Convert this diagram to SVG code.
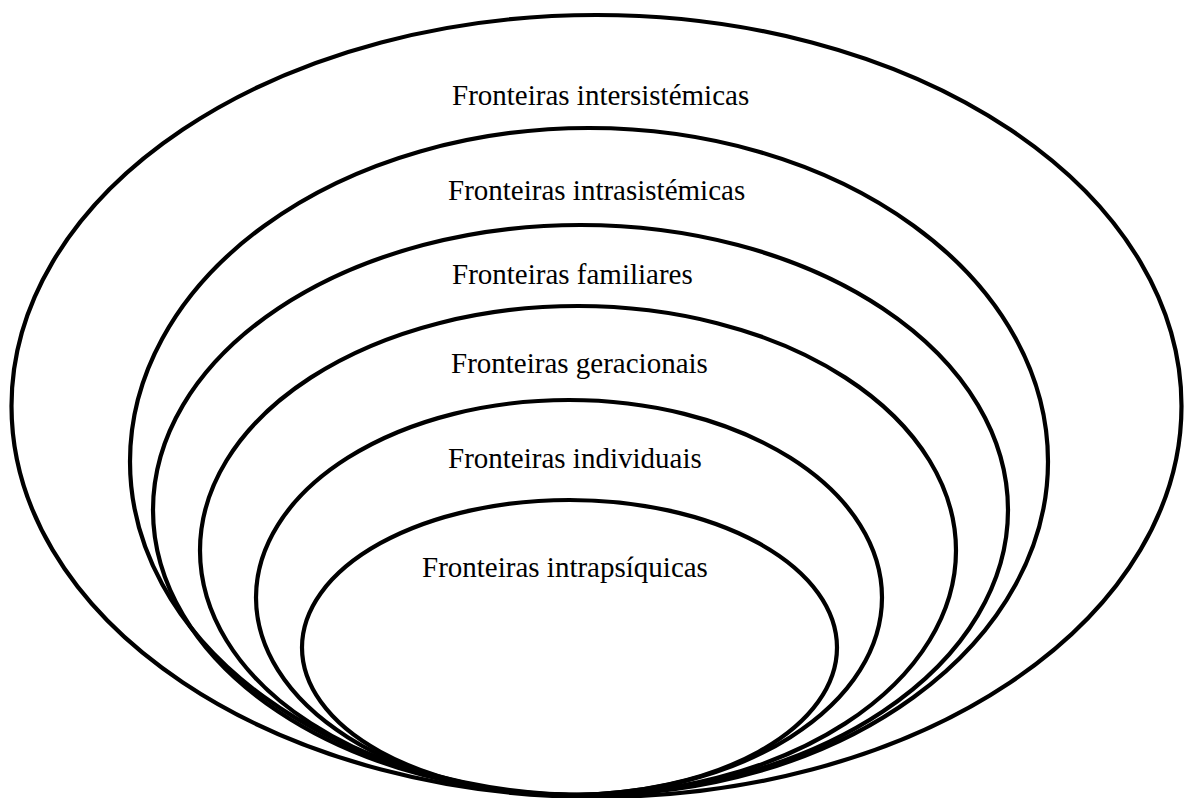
<svg xmlns="http://www.w3.org/2000/svg" width="1184" height="798" viewBox="0 0 1184 798">
  <style>
    .ring { fill: none; stroke: #000; stroke-width: 4.2; }
    .lbl { font-family: "Liberation Serif", "Times New Roman", serif; font-size: 29px; fill: #000; }
  </style>
  <rect x="0" y="0" width="1184" height="798" fill="#fff"/>
  <g id="intersistemicas">
    <ellipse class="ring" cx="596.5" cy="406" rx="585" ry="391"/>
    <text class="lbl" x="452" y="105">Fronteiras intersistémicas</text>
  </g>
  <g id="intrasistemicas">
    <ellipse class="ring" cx="589" cy="461.5" rx="459" ry="333.5"/>
    <text class="lbl" x="448" y="200">Fronteiras intrasistémicas</text>
  </g>
  <g id="familiares">
    <ellipse class="ring" cx="580.5" cy="510" rx="427.5" ry="285"/>
    <text class="lbl" x="452" y="284">Fronteiras familiares</text>
  </g>
  <g id="geracionais">
    <ellipse class="ring" cx="578" cy="550.5" rx="378" ry="244.5"/>
    <text class="lbl" x="451" y="373">Fronteiras geracionais</text>
  </g>
  <g id="individuais">
    <ellipse class="ring" cx="569" cy="597.5" rx="313" ry="197.5"/>
    <text class="lbl" x="448" y="468">Fronteiras individuais</text>
  </g>
  <g id="intrapsiquicas">
    <ellipse class="ring" cx="569.5" cy="647.5" rx="267.5" ry="147.5"/>
    <text class="lbl" x="422" y="577">Fronteiras intrapsíquicas</text>
  </g>
  <g id="connectors"></g>
</svg>
